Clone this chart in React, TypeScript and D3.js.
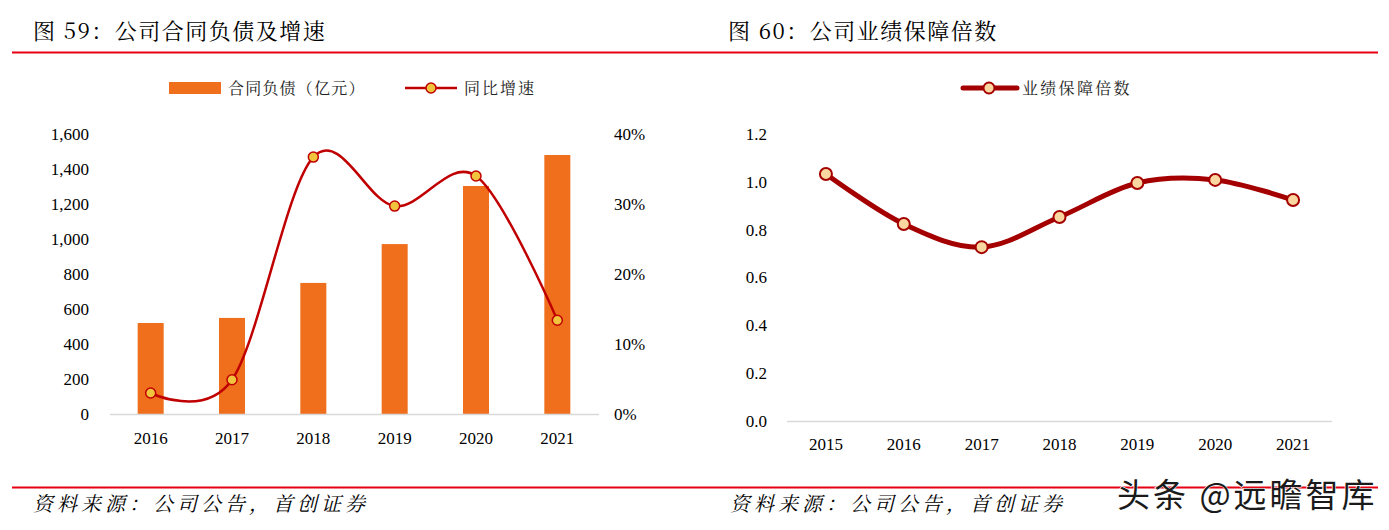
import React from "react";
import * as d3 from "d3";

const years1 = ["2016", "2017", "2018", "2019", "2020", "2021"];
const liabilities = [520, 549, 749, 971, 1303, 1480];
const growth = [3.0, 4.9, 36.7, 29.7, 34.0, 13.4];
const leftTicks = [0, 200, 400, 600, 800, 1000, 1200, 1400, 1600];
const rightTicks = [0, 10, 20, 30, 40];

const years2 = ["2015", "2016", "2017", "2018", "2019", "2020", "2021"];
const coverage = [1.033, 0.824, 0.727, 0.853, 0.995, 1.008, 0.924];
const covTicks = [0, 0.2, 0.4, 0.6, 0.8, 1.0, 1.2];

const CJK = "'Noto Serif CJK SC','Noto Sans CJK SC',serif";
const NUM = "'Liberation Serif','Times New Roman',serif";

export default function App() {
  // Left chart scales
  const x1 = d3.scaleBand().domain(years1).range([110, 598]);
  const yL = d3.scaleLinear().domain([0, 1600]).range([414, 134]);
  const yR = d3.scaleLinear().domain([0, 40]).range([414, 134]);
  const line1 = d3
    .line<number>()
    .x((_, i) => (x1(years1[i]) as number) + x1.bandwidth() / 2)
    .y((d) => yR(d))
    .curve(d3.curveCatmullRom.alpha(0));

  // Right chart scales
  const x2 = d3.scaleBand().domain(years2).range([787, 1332]);
  const y2 = d3.scaleLinear().domain([0, 1.2]).range([421, 134]);
  const line2 = d3
    .line<number>()
    .x((_, i) => (x2(years2[i]) as number) + x2.bandwidth() / 2)
    .y((d) => y2(d))
    .curve(d3.curveCatmullRom.alpha(0));

  const barW = 26;
  const fmt = d3.format(",");

  return (
    <svg
      width={1389}
      height={530}
      style={{ position: "absolute", left: 0, top: 0, background: "#fff" }}
    >
      {/* Titles */}
      <text x={33} y={39} fontFamily={CJK} fontSize={22} letterSpacing={1.5} fill="#000">
        图 59：公司合同负债及增速
      </text>
      <text x={728} y={39} fontFamily={CJK} fontSize={22} letterSpacing={1.5} fill="#000">
        图 60：公司业绩保障倍数
      </text>
      <line x1={12} x2={1378} y1={52.5} y2={52.5} stroke="#E60012" strokeWidth={2} />

      {/* Left legend */}
      <rect x={169} y={82} width={52} height={12} fill="#EF6F1C" />
      <text x={228} y={94} fontFamily={CJK} fontSize={16} letterSpacing={1.2} fill="#222">
        合同负债（亿元）
      </text>
      <line x1={405} x2={457} y1={88} y2={88} stroke="#C00000" strokeWidth={2.5} />
      <circle cx={431} cy={88} r={5} fill="#F0C43C" stroke="#C00000" strokeWidth={1.5} />
      <text x={464} y={94} fontFamily={CJK} fontSize={16} letterSpacing={2} fill="#222">
        同比增速
      </text>

      {/* Left axes */}
      {leftTicks.map((t) => (
        <text
          key={"l" + t}
          x={89}
          y={yL(t)}
          dy="0.35em"
          textAnchor="end"
          fontFamily={NUM}
          fontSize={17}
          fill="#000"
        >
          {fmt(t)}
        </text>
      ))}
      {rightTicks.map((t) => (
        <text
          key={"r" + t}
          x={614}
          y={yR(t)}
          dy="0.35em"
          textAnchor="start"
          fontFamily={NUM}
          fontSize={17}
          fill="#000"
        >
          {t + "%"}
        </text>
      ))}
      {years1.map((yr) => (
        <text
          key={"x" + yr}
          x={(x1(yr) as number) + x1.bandwidth() / 2}
          y={438}
          dy="0.35em"
          textAnchor="middle"
          fontFamily={NUM}
          fontSize={17}
          fill="#000"
        >
          {yr}
        </text>
      ))}

      {/* Bars */}
      {liabilities.map((v, i) => (
        <rect
          key={"b" + i}
          x={(x1(years1[i]) as number) + x1.bandwidth() / 2 - barW / 2}
          y={yL(v)}
          width={barW}
          height={yL(0) - yL(v)}
          fill="#EF6F1C"
        />
      ))}
      <line x1={110} x2={599} y1={414.5} y2={414.5} stroke="#D9D9D9" strokeWidth={1.5} />

      {/* Growth line */}
      <path d={line1(growth) || ""} fill="none" stroke="#C00000" strokeWidth={2.5} />
      {growth.map((v, i) => (
        <circle
          key={"g" + i}
          cx={(x1(years1[i]) as number) + x1.bandwidth() / 2}
          cy={yR(v)}
          r={5}
          fill="#F0C43C"
          stroke="#C00000"
          strokeWidth={1.5}
        />
      ))}

      {/* Right legend */}
      <line x1={963} x2={1017} y1={88} y2={88} stroke="#A50000" strokeWidth={5} strokeLinecap="round" />
      <circle cx={989} cy={88} r={5.5} fill="#FAD7A0" stroke="#A50000" strokeWidth={2} />
      <text x={1022} y={94} fontFamily={CJK} fontSize={16} letterSpacing={2.3} fill="#222">
        业绩保障倍数
      </text>

      {/* Right axes */}
      {covTicks.map((t) => (
        <text
          key={"c" + t}
          x={767}
          y={y2(t)}
          dy="0.35em"
          textAnchor="end"
          fontFamily={NUM}
          fontSize={17}
          fill="#000"
        >
          {t.toFixed(1)}
        </text>
      ))}
      <line x1={787} x2={1332} y1={421.5} y2={421.5} stroke="#D9D9D9" strokeWidth={1.5} />
      {years2.map((yr) => (
        <text
          key={"x2" + yr}
          x={(x2(yr) as number) + x2.bandwidth() / 2}
          y={444}
          dy="0.35em"
          textAnchor="middle"
          fontFamily={NUM}
          fontSize={17}
          fill="#000"
        >
          {yr}
        </text>
      ))}
      <path d={line2(coverage) || ""} fill="none" stroke="#A50000" strokeWidth={5} strokeLinecap="round" />
      {coverage.map((v, i) => (
        <circle
          key={"m" + i}
          cx={(x2(years2[i]) as number) + x2.bandwidth() / 2}
          cy={y2(v)}
          r={6}
          fill="#FAD7A0"
          stroke="#A50000"
          strokeWidth={2}
        />
      ))}

      {/* Footer */}
      <line x1={12} x2={1378} y1={487.5} y2={487.5} stroke="#E60012" strokeWidth={2} />
      <text x={33} y={511} fontFamily={CJK} fontSize={20} fontStyle="italic" letterSpacing={4} fill="#000">
        资料来源：公司公告，首创证券
      </text>
      <text x={730} y={511} fontFamily={CJK} fontSize={20} fontStyle="italic" letterSpacing={4} fill="#000">
        资料来源：公司公告，首创证券
      </text>
      <text
        x={1117}
        y={507}
        fontFamily="'Noto Sans CJK SC',sans-serif"
        fontSize={33}
        letterSpacing={3}
        fill="#1a1a1a"
        stroke="#ffffff"
        strokeWidth={1.2}
        paintOrder="stroke"
      >
        头条 @远瞻智库
      </text>
    </svg>
  );
}
